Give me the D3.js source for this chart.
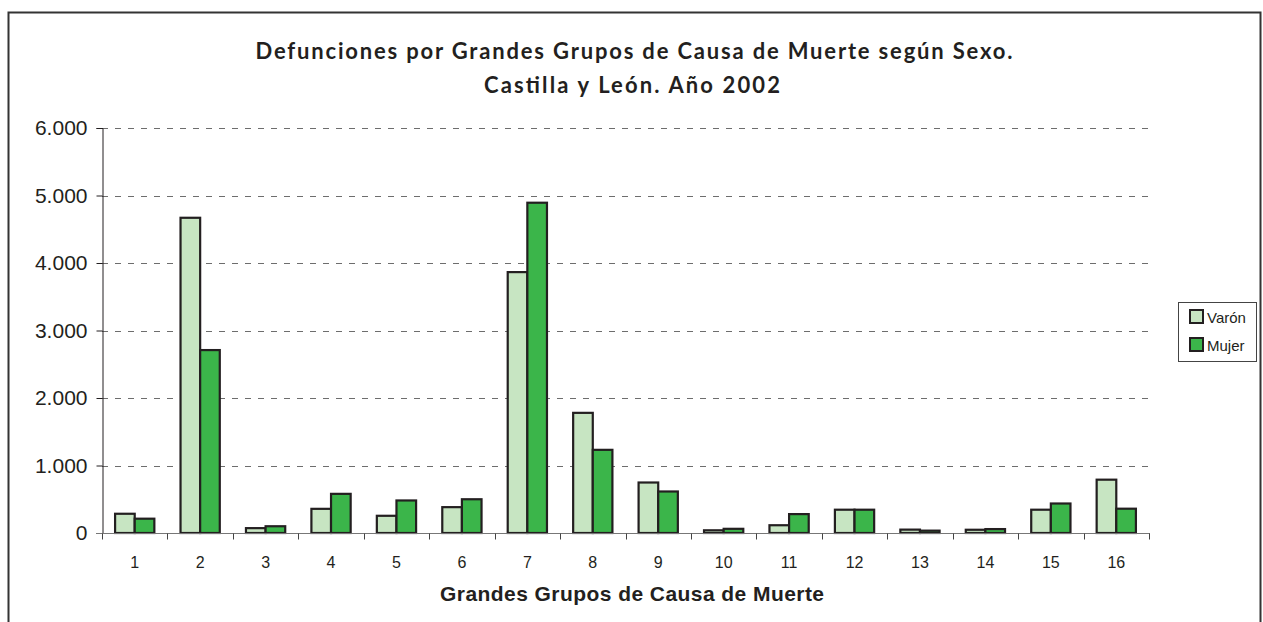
<!DOCTYPE html>
<meta http-equiv="content-type" content="text/html; charset=utf-8" />
<html>
  <head>
    <script src="https://d3js.org/d3.v7.min.js"></script>
    <style>
      body { margin: 0; background: #fff; }
    </style>
  </head>
  <body>
    <div id="viz"></div>
    <script>
      // datos
      let categories = ['1','2','3','4','5','6','7','8','9','10','11','12','13','14','15','16'];
      let varon = [285, 4670, 72, 358, 255, 383, 3865, 1780, 748, 40, 115, 345, 50, 48, 345, 790];
      let mujer = [212, 2710, 100, 580, 482, 500, 4893, 1232, 615, 62, 280, 345, 35, 58, 437, 360];
      let seriesNames = ['Varón', 'Mujer'];
      let colors = ['#c7e5c2', '#3bb54a'];
      let yTicks = [0, 1000, 2000, 3000, 4000, 5000, 6000];

      let W = 1263, H = 622;
      let margin = {top: 128, left: 102, right: 1149, bottom: 533};

      let svg = d3.select('#viz')
        .append('svg')
        .attr('width', W)
        .attr('height', H);

      // marco exterior
      svg.append('rect')
        .attr('x', 8.5).attr('y', 12.5)
        .attr('width', 1252).attr('height', 640)
        .attr('fill', 'none')
        .attr('stroke', '#333')
        .attr('stroke-width', 2);

      // titulo
      let title = svg.append('text')
        .attr('text-anchor', 'middle')
        .style('font-family', 'Lato, "Open Sans", sans-serif')
        .style('font-weight', 'bold')
        .style('font-size', '22px')
        .attr('fill', '#231f20');
      title.append('tspan').attr('x', 634).attr('y', 59)
        .text('Defunciones por Grandes Grupos de Causa de Muerte según Sexo.')
        .attr('textLength', 757).attr('lengthAdjust', 'spacing');
      title.append('tspan').attr('x', 632).attr('y', 93)
        .text('Castilla y León. Año 2002')
        .attr('textLength', 296).attr('lengthAdjust', 'spacing');

      let x = d3.scaleBand()
        .domain(categories)
        .range([margin.left, margin.right])
        .padding(0);
      let xSub = d3.scaleBand()
        .domain(seriesNames)
        .range([0, x.bandwidth()])
        .paddingInner(0)
        .paddingOuter(0.667);
      let y = d3.scaleLinear()
        .domain([0, 6000])
        .range([margin.bottom, margin.top]);

      let fmt = d3.formatLocale({decimal: ',', thousands: '.', grouping: [3], currency: ['', '']}).format(',.0f');

      // lineas de division
      svg.append('g')
        .selectAll('line')
        .data(yTicks.filter(d => d > 0))
        .join('line')
        .attr('x1', margin.left).attr('x2', margin.right + 1)
        .attr('y1', d => Math.round(y(d)) + 0.5)
        .attr('y2', d => Math.round(y(d)) + 0.5)
        .attr('stroke', '#6d6d6d')
        .attr('stroke-dasharray', '6,7');

      // barras
      let table = categories.map((c, i) => ({cat: c, values: [varon[i], mujer[i]]}));
      let groups = svg.append('g')
        .selectAll('g')
        .data(table)
        .join('g')
        .attr('transform', d => `translate(${x(d.cat)},0)`);
      groups.selectAll('rect')
        .data(d => d.values.map((v, k) => ({name: seriesNames[k], v: v, k: k})))
        .join('rect')
        .attr('x', d => xSub(d.name))
        .attr('y', d => y(d.v))
        .attr('width', xSub.bandwidth())
        .attr('height', d => y(0) - y(d.v))
        .attr('fill', d => colors[d.k])
        .attr('stroke', '#231f20')
        .attr('stroke-width', 2.2);

      // eje Y
      let yAxis = svg.append('g')
        .attr('transform', `translate(${margin.left + 0.5},0)`)
        .call(d3.axisLeft(y).tickValues(yTicks).tickSize(6).tickPadding(9).tickFormat(fmt));
      yAxis.select('.domain').attr('stroke', '#231f20');
      yAxis.selectAll('.tick line').attr('stroke', '#231f20');
      yAxis.selectAll('text')
        .style('font-family', '"Liberation Sans", Arial, sans-serif')
        .style('font-size', '21px')
        .attr('fill', '#231f20');

      // eje X
      let xAxis = svg.append('g')
        .attr('transform', `translate(0,${margin.bottom + 0.5})`);
      xAxis.append('line')
        .attr('x1', margin.left - 6).attr('x2', margin.right + 1)
        .attr('stroke', '#777');
      xAxis.selectAll('.tk')
        .data(categories.concat(['end']))
        .join('line')
        .attr('class', 'tk')
        .attr('x1', (d, i) => Math.round(i < categories.length ? x(d) : margin.right) + 0.5)
        .attr('x2', (d, i) => Math.round(i < categories.length ? x(d) : margin.right) + 0.5)
        .attr('y1', 0).attr('y2', 6)
        .attr('stroke', '#444');
      xAxis.selectAll('text')
        .data(categories)
        .join('text')
        .attr('x', d => x(d) + x.bandwidth() / 2)
        .attr('y', 34)
        .attr('text-anchor', 'middle')
        .style('font-family', '"Liberation Sans", Arial, sans-serif')
        .style('font-size', '16px')
        .attr('fill', '#231f20')
        .text(d => d);

      svg.append('text')
        .attr('x', 632).attr('y', 601)
        .attr('text-anchor', 'middle')
        .style('font-family', '"Liberation Sans", Arial, sans-serif')
        .style('font-weight', 'bold')
        .style('font-size', '21px')
        .attr('fill', '#231f20')
        .attr('textLength', 384).attr('lengthAdjust', 'spacing')
        .text('Grandes Grupos de Causa de Muerte');

      // leyenda
      let legend = svg.append('g');
      legend.append('rect')
        .attr('x', 1178.5).attr('y', 302.5)
        .attr('width', 78).attr('height', 59)
        .attr('fill', '#fff')
        .attr('stroke', '#444');
      let items = legend.selectAll('g')
        .data(seriesNames)
        .join('g')
        .attr('transform', (d, i) => `translate(1190,${310 + i * 28})`);
      items.append('rect')
        .attr('width', 13).attr('height', 13)
        .attr('fill', (d, i) => colors[i])
        .attr('stroke', '#231f20')
        .attr('stroke-width', 2);
      items.append('text')
        .attr('x', 17).attr('y', 13)
        .style('font-family', '"Liberation Sans", Arial, sans-serif')
        .style('font-size', '15px')
        .attr('fill', '#231f20')
        .text(d => d);
    </script>
  </body>
</html>
